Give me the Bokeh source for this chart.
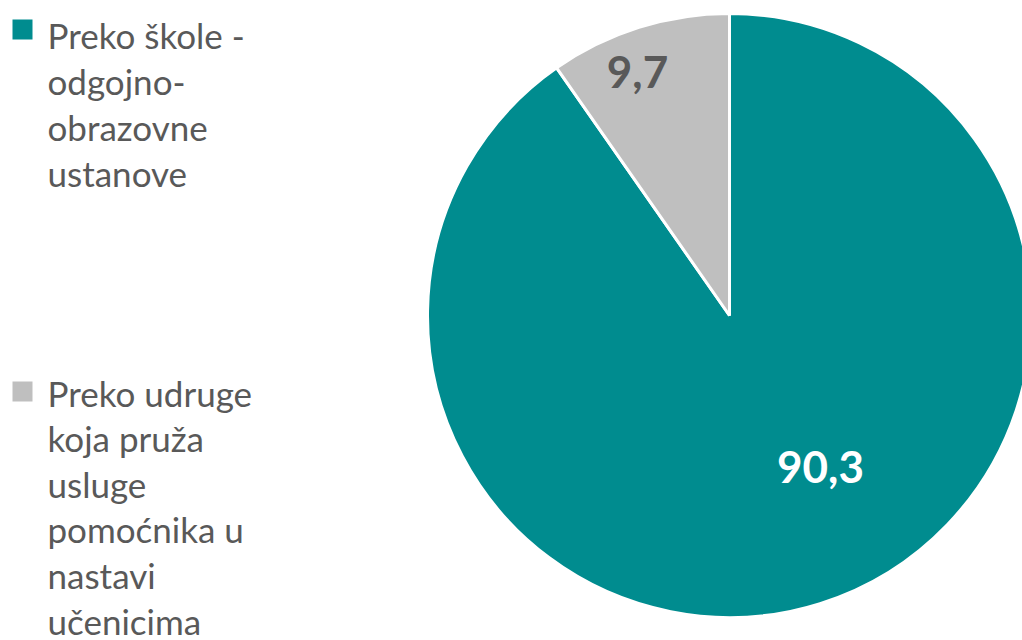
import math
from bokeh.plotting import figure
from bokeh.models import Range1d, ColumnDataSource
from bokeh.core.properties import value
from bokeh.embed import file_html
from bokeh.resources import INLINE

# Data
categories = ["Preko škole - odgojno-obrazovne ustanove",
              "Preko udruge koja pruža usluge pomoćnika u nastavi učenicima"]
values = [90.3, 9.7]
value_labels = ["90,3", "9,7"]
legend_lines = [["Preko škole -", "odgojno-", "obrazovne", "ustanove"],
                ["Preko udruge", "koja pruža", "usluge", "pomoćnika u", "nastavi", "učenicima"]]
colors = ["#008C8F", "#BFBFBF"]
label_colors = ["#FFFFFF", "#595959"]

W, H = 1022, 640
def px(x): return x
def py(y): return H - y

p = figure(width=W, height=H, x_range=Range1d(0, W), y_range=Range1d(0, H),
           output_backend="svg", toolbar_location=None, min_border=0)
p.axis.visible = False
p.grid.visible = False
p.outline_line_color = None
p.background_fill_color = "white"

cx, cy, r = px(729), py(315), 302
total = sum(values)
teal_span = values[0] / total * 2 * math.pi
starts = [math.pi / 2 - teal_span, math.pi / 2]
ends = [math.pi / 2, math.pi / 2 + values[1] / total * 2 * math.pi]
src = ColumnDataSource(dict(x=[cx, cx], y=[cy, cy], start=starts, end=ends, color=colors))
p.wedge(x="x", y="y", radius=r, start_angle="start", end_angle="end",
        fill_color="color", line_color="white", line_width=3, source=src)

# Value labels
lab_src = ColumnDataSource(dict(x=[px(820), px(637)], y=[py(466), py(71)],
                                text=value_labels, color=label_colors))
p.text(x="x", y="y", text="text", text_color="color", source=lab_src,
       text_font=value("Lato"), text_font_size="44px", text_font_style="bold",
       text_align="center", text_baseline="middle")

# Legend
square_y = [py(29), py(391)]
first_base = [34, 392]
spacing = [46.3, 45.6]
p.scatter(x=[px(22)] * 2, y=square_y, marker="square", size=20,
          fill_color=colors, line_color=None)
xs, ys, ts = [], [], []
for i, lines in enumerate(legend_lines):
    for j, t in enumerate(lines):
        xs.append(px(47))
        ys.append(py(first_base[i] + j * spacing[i]))
        ts.append(t)
p.text(x=xs, y=ys, text=ts, text_color="#595959", text_font=value("Lato"),
       text_font_size="35px", text_align="left", text_baseline="alphabetic")

open("out.html", "w").write(file_html(p, INLINE))
